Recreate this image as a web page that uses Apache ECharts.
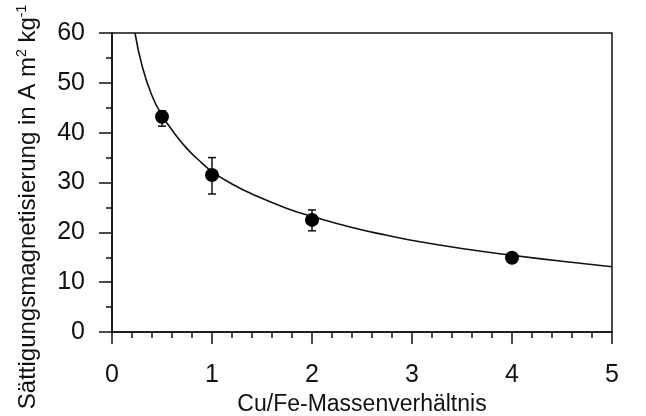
<!DOCTYPE html>
<html>
<head>
<meta charset="utf-8">
<script src="https://cdn.jsdelivr.net/npm/echarts@6/dist/echarts.min.js"></script>
<style>
  html, body { margin: 0; padding: 0; background: #fff; }
  #chart { width: 646px; height: 416px; }
</style>
</head>
<body>
<div id="chart"></div>
<script>
// Messpunkte
var ratio = [0.5, 1, 2, 4];
var magnet = [43.2, 31.5, 22.5, 14.9];
var errHigh = [44.4, 35.0, 24.5, 14.9];
var errLow = [41.3, 27.7, 20.3, 14.9];

// Anpassungskurve
var fitX = [0.23, 0.3, 0.4, 0.5, 0.62, 0.75, 0.9, 1.0, 1.2, 1.41, 1.75, 2.0, 2.41, 2.75, 3.05, 3.55, 4.0, 4.5, 5.0];
var fitY = [60, 53.5, 47.4, 43.5, 40.0, 36.8, 33.9, 32.2, 29.7, 27.6, 24.8, 23.2, 20.9, 19.4, 18.2, 16.6, 15.4, 14.2, 13.1];

var xTicks = ['0', '1', '2', '3', '4', '5'];
var yTicks = ['0', '10', '20', '30', '40', '50', '60'];

var FONT = '"Liberation Sans", Arial, sans-serif';

var fitData = fitX.map(function (x, i) { return [x, fitY[i]]; });
var pointData = ratio.map(function (x, i) { return [x, magnet[i]]; });
var errData = ratio.map(function (x, i) { return [x, errLow[i], errHigh[i]]; });

var myChart = echarts.init(document.getElementById('chart'));

var option = {
    backgroundColor: '#fff',
    animation: false,
    grid: {
        left: 112,
        right: 34,
        top: 33,
        bottom: 84,
        outerBoundsMode: 'none',
        show: true,
        borderColor: '#111',
        borderWidth: 1.5
    },
    xAxis: {
        type: 'value',
        min: 0,
        max: 5,
        interval: 1,
        name: 'Cu/Fe-Massenverhältnis',
        nameLocation: 'middle',
        nameGap: 58,
        nameTextStyle: { color: '#111', fontSize: 23, fontFamily: FONT },
        axisLine: { onZero: false, lineStyle: { color: '#111', width: 1.5 } },
        axisTick: { length: 12, lineStyle: { color: '#111', width: 1.5 } },
        minorTick: { show: true, splitNumber: 5, length: 6, lineStyle: { color: '#111', width: 1.5 } },
        splitLine: { show: false },
        axisLabel: {
            color: '#111', fontSize: 25, fontFamily: FONT, margin: 31,
            formatter: function (v) { return xTicks[Math.round(v)]; }
        }
    },
    yAxis: {
        type: 'value',
        min: 0,
        max: 60,
        interval: 10,
        axisLine: { onZero: false, lineStyle: { color: '#111', width: 1.5 } },
        axisTick: { length: 13, lineStyle: { color: '#111', width: 1.5 } },
        minorTick: { show: true, splitNumber: 2, length: 6, lineStyle: { color: '#111', width: 1.5 } },
        splitLine: { show: false },
        axisLabel: {
            color: '#111', fontSize: 25, fontFamily: FONT, margin: 27,
            formatter: function (v) { return yTicks[Math.round(v / 10)]; }
        }
    },
    graphic: [{
        type: 'text',
        x: 28,
        y: 207,
        rotation: Math.PI / 2,
        style: {
            text: 'Sättigungsmagnetisierung in A m{sup|2} kg{sup|-1}',
            fill: '#111',
            font: '24px ' + FONT,
            align: 'center',
            verticalAlign: 'middle',
            rich: {
                sup: { fontSize: 14, fontFamily: FONT, padding: [0, 0, 12, 0], fill: '#111' }
            }
        }
    }],
    series: [
        {
            type: 'line',
            data: fitData,
            smooth: true,
            showSymbol: false,
            clip: true,
            lineStyle: { color: '#111', width: 1.6 },
            z: 2
        },
        {
            type: 'custom',
            data: errData,
            renderItem: function (params, api) {
                var x = api.value(0);
                var lo = api.coord([x, api.value(1)]);
                var hi = api.coord([x, api.value(2)]);
                var cap = 4;
                var st = { stroke: '#111', lineWidth: 1.5 };
                return {
                    type: 'group',
                    children: [
                        { type: 'line', shape: { x1: lo[0], y1: lo[1], x2: hi[0], y2: hi[1] }, style: st },
                        { type: 'line', shape: { x1: lo[0] - cap, y1: lo[1], x2: lo[0] + cap, y2: lo[1] }, style: st },
                        { type: 'line', shape: { x1: hi[0] - cap, y1: hi[1], x2: hi[0] + cap, y2: hi[1] }, style: st }
                    ]
                };
            },
            z: 3
        },
        {
            type: 'scatter',
            data: pointData,
            symbol: 'circle',
            symbolSize: 14,
            itemStyle: { color: '#000', opacity: 1 },
            z: 4
        }
    ]
};

myChart.setOption(option);
</script>
</body>
</html>
